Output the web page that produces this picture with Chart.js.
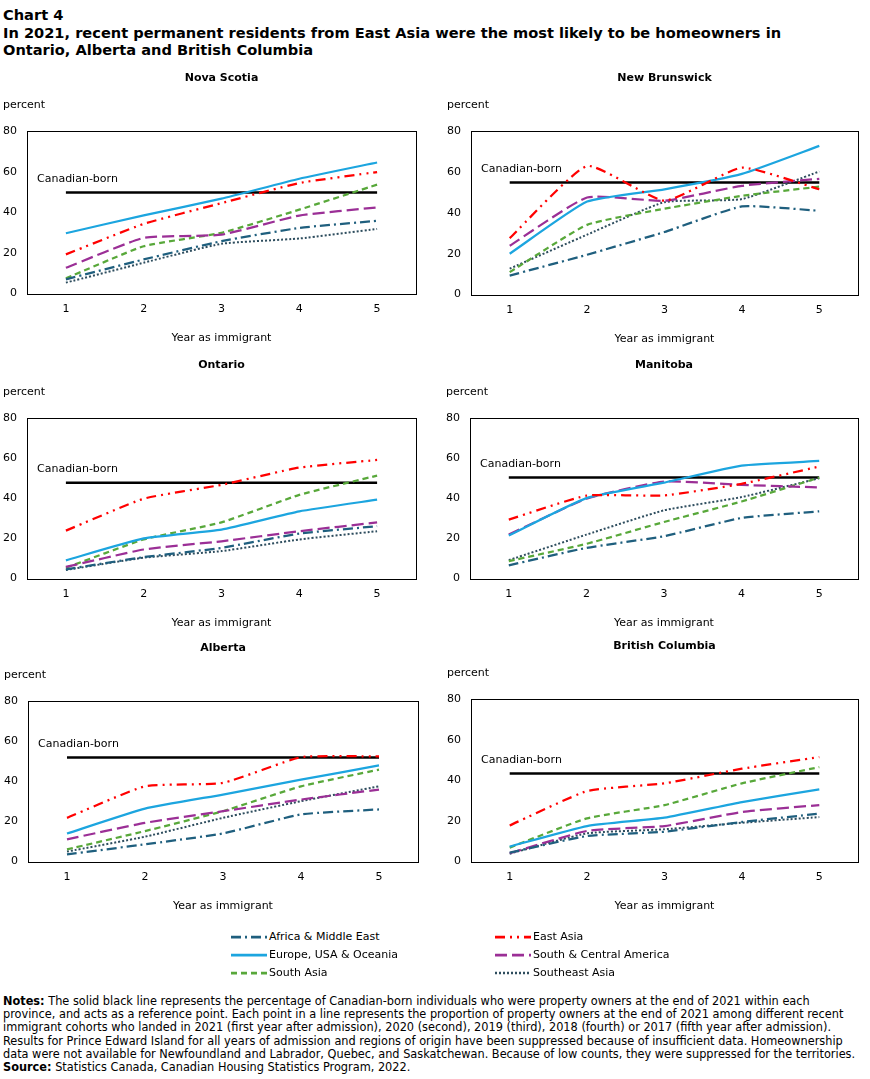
<!DOCTYPE html>
<html>
<head>
<meta charset="utf-8">
<script src="https://cdn.jsdelivr.net/npm/chart.js@4.4.1/dist/chart.umd.min.js"></script>
<style>
    body { margin: 0; background: #fff; width: 870px; height: 1079px; position: relative; overflow: hidden;
           font-family: "DejaVu Sans", Verdana, sans-serif; color: #000; }
    .head { position: absolute; left: 3px; top: 6px; font-weight: bold; font-size: 14.6px; line-height: 17.5px; white-space: nowrap; }
    .panel { position: absolute; }
    .legend { position: absolute; font-size: 11px; height: 18px; line-height: 18px; white-space: nowrap; }
    .legend svg { vertical-align: middle; margin-right: 2px; }
    .notes { position: absolute; left: 3px; top: 994px; font-family: "DejaVu Sans Condensed", "Liberation Sans Narrow", sans-serif;
             font-size: 12.6px; line-height: 13.2px; white-space: nowrap; }
</style>
</head>
<body>
<div class="head">Chart 4<br>In 2021, recent permanent residents from East Asia were the most likely to be homeowners in<br>Ontario, Alberta and British Columbia</div>

<canvas id="p0" class="panel"></canvas>
<canvas id="p1" class="panel"></canvas>
<canvas id="p2" class="panel"></canvas>
<canvas id="p3" class="panel"></canvas>
<canvas id="p4" class="panel"></canvas>
<canvas id="p5" class="panel"></canvas>

<div id="legend"></div>

<div class="notes"><b>Notes:</b> The solid black line represents the percentage of Canadian-born individuals who were property owners at the end of 2021 within each<br>province, and acts as a reference point. Each point in a line represents the proportion of property owners at the end of 2021 among different recent<br>immigrant cohorts who landed in 2021 (first year after admission), 2020 (second), 2019 (third), 2018 (fourth) or 2017 (fifth year after admission).<br>Results for Prince Edward Island for all years of admission and regions of origin have been suppressed because of insufficient data. Homeownership<br>data were not available for Newfoundland and Labrador, Quebec, and Saskatchewan. Because of low counts, they were suppressed for the territories.<br><b>Source:</b> Statistics Canada, Canadian Housing Statistics Program, 2022.</div>

<script>
// --- Data (percent of property owners), one row per province ---
const years = ['1', '2', '3', '4', '5'];
const provinces = ['Nova Scotia', 'New Brunswick', 'Ontario', 'Manitoba', 'Alberta', 'British Columbia'];
const yTicks = [0, 20, 40, 60, 80];

const canadianBorn = [49.8, 54.8, 47.8, 50.3, 51.9, 43.4];

const africaMiddleEast = [
    [7.0, 16.8, 25.8, 32.3, 35.8],
    [9.3, 19.5, 30.6, 43.1, 41.0],
    [4.6, 10.7, 15.3, 22.4, 26.1],
    [6.6, 15.3, 21.1, 30.2, 33.5],
    [3.6, 8.6, 14.0, 23.5, 26.0],
    [4.4, 12.6, 14.7, 19.5, 23.6]
];
const eastAsia = [
    [19.3, 34.3, 44.5, 54.4, 59.8],
    [27.6, 62.9, 45.9, 62.1, 51.5],
    [23.9, 39.8, 46.7, 55.3, 59.1],
    [29.4, 41.3, 41.4, 47.2, 55.8],
    [21.8, 37.5, 39.2, 52.0, 52.4],
    [17.8, 34.7, 38.5, 45.7, 51.4]
];
const europeUsaOceania = [
    [29.7, 38.5, 46.7, 56.5, 64.5],
    [20.0, 45.5, 51.5, 59.0, 72.7],
    [9.1, 20.0, 24.4, 33.5, 39.3],
    [21.5, 40.1, 47.8, 56.3, 58.6],
    [14.0, 26.4, 33.4, 40.8, 47.9],
    [7.4, 17.5, 21.6, 29.3, 35.5]
];
const southCentralAmerica = [
    [12.7, 27.4, 29.0, 38.4, 42.4],
    [23.9, 47.5, 45.9, 53.2, 56.6],
    [5.8, 14.5, 18.6, 23.6, 28.0],
    [21.9, 39.8, 48.3, 46.7, 45.4],
    [11.1, 19.3, 25.1, 30.9, 35.9],
    [4.1, 15.1, 17.5, 24.4, 27.8]
];
const southAsia = [
    [7.5, 23.3, 29.9, 41.3, 53.6],
    [11.0, 34.1, 42.0, 48.3, 52.8],
    [5.4, 19.5, 28.0, 41.7, 51.3],
    [8.7, 17.3, 28.2, 38.4, 50.3],
    [6.1, 15.2, 25.1, 37.5, 45.8],
    [6.9, 21.3, 27.8, 38.5, 46.5]
];
const southeastAsia = [
    [5.4, 15.2, 24.5, 27.1, 31.8],
    [12.7, 29.3, 45.2, 46.7, 60.2],
    [4.3, 10.4, 13.7, 19.5, 23.6],
    [9.2, 21.9, 34.0, 40.6, 50.0],
    [5.0, 12.4, 21.8, 30.1, 37.5],
    [3.9, 13.9, 15.9, 19.1, 21.9]
];

// --- Series styling ---
const series = [
    { label: 'Africa & Middle East', values: africaMiddleEast, color: '#1f5f7e', dash: [10, 4, 2, 4], width: 2.25 },
    { label: 'East Asia', values: eastAsia, color: '#ff0000', dash: [10, 5, 2, 5, 2, 5], width: 2.25 },
    { label: 'Europe, USA & Oceania', values: europeUsaOceania, color: '#1ca5df', dash: [], width: 2.25 },
    { label: 'South & Central America', values: southCentralAmerica, color: '#9b2f96', dash: [12, 5], width: 2.25 },
    { label: 'South Asia', values: southAsia, color: '#58a83a', dash: [6, 4], width: 2.25 },
    { label: 'Southeast Asia', values: southeastAsia, color: '#2e4d5e', dash: [2, 2], width: 2 }
];

const FONT = '"DejaVu Sans", Verdana, sans-serif';

// canvas placement for each province panel
const layoutBoxes = [
    { left: 0,   top: 66,  width: 435, height: 284, padL: 3,  padR: 19 },
    { left: 435, top: 66,  width: 435, height: 285, padL: 12, padR: 12 },
    { left: 0,   top: 353, width: 435, height: 282, padL: 3,  padR: 19 },
    { left: 435, top: 353, width: 435, height: 282, padL: 11, padR: 12 },
    { left: 0,   top: 636, width: 435, height: 282, padL: 4,  padR: 17 },
    { left: 435, top: 634, width: 435, height: 284, padL: 12, padR: 12 }
];

// --- Plugins ---
// black frame around the plot area
const frameBox = {
    id: 'frameBox',
    beforeDatasetsDraw(chart) {
        const { ctx, chartArea: a } = chart;
        ctx.save();
        ctx.strokeStyle = '#000';
        ctx.lineWidth = 1;
        ctx.strokeRect(Math.round(a.left) + 0.5, Math.round(a.top) + 0.5,
            Math.round(a.right - a.left), Math.round(a.bottom - a.top));
        ctx.restore();
    }
};

// province name, centred over the plot area (not the whole canvas)
const panelTitle = {
    id: 'panelTitle',
    afterDraw(chart, args, opts) {
        const { ctx, chartArea } = chart;
        ctx.save();
        ctx.font = 'bold 11px ' + FONT;
        ctx.fillStyle = '#000';
        ctx.textAlign = 'center';
        ctx.textBaseline = 'middle';
        ctx.fillText(opts.text, (chartArea.left + chartArea.right) / 2, 12.6);
        ctx.restore();
    }
};

// "Canadian-born" tag above the reference line
const refLabel = {
    id: 'refLabel',
    afterDatasetsDraw(chart, args, opts) {
        const { ctx, chartArea } = chart;
        const y = chart.scales.y.getPixelForValue(opts.value);
        ctx.save();
        ctx.font = '11px ' + FONT;
        ctx.fillStyle = '#000';
        ctx.textBaseline = 'middle';
        ctx.fillText('Canadian-born', chartArea.left + 10, y - 13.5);
        ctx.restore();
    }
};

function makePanel(i) {
    const box = layoutBoxes[i];
    const canvas = document.getElementById('p' + i);
    canvas.style.left = box.left + 'px';
    canvas.style.top = box.top + 'px';
    canvas.width = box.width;
    canvas.height = box.height;

    const datasets = series.map(s => ({
        label: s.label,
        data: s.values[i],
        borderColor: s.color,
        borderDash: s.dash,
        borderWidth: s.width,
        tension: 0.15
    }));
    // reference line goes last so it sits under the coloured lines
    datasets.push({
        label: 'Canadian-born',
        data: years.map(() => canadianBorn[i]),
        borderColor: '#000',
        borderWidth: 2.5,
        tension: 0
    });

    new Chart(canvas, {
        type: 'line',
        data: { labels: years, datasets: datasets },
        options: {
            responsive: false,
            animation: false,
            devicePixelRatio: 1,
            layout: { padding: { left: box.padL, right: box.padR, top: 25.2, bottom: 0 } },
            elements: { point: { radius: 0 }, line: { fill: false, borderCapStyle: 'butt' } },
            plugins: {
                legend: { display: false },
                tooltip: { enabled: false },
                title: { display: false },
                subtitle: {
                    display: true, text: 'percent', align: 'start', color: '#000',
                    font: { family: FONT, size: 11 },
                    padding: { top: 7.2, bottom: 19.4 }
                },
                panelTitle: { text: provinces[i] },
                refLabel: { value: canadianBorn[i] }
            },
            scales: {
                x: {
                    offset: true,
                    grid: { display: false, drawTicks: false, tickLength: 0 },
                    border: { display: false },
                    ticks: { color: '#000', padding: 8.5, font: { family: FONT, size: 11 } },
                    title: {
                        display: true, text: 'Year as immigrant', color: '#000',
                        font: { family: FONT, size: 11 },
                        padding: { top: 7.5, bottom: 5.5 }
                    }
                },
                y: {
                    min: yTicks[0], max: yTicks[yTicks.length - 1],
                    afterBuildTicks: axis => { axis.ticks = yTicks.map(v => ({ value: v })); },
                    // the scale reserves the tick padding twice; keep only the gap next to the frame
                    afterFit: axis => { axis.width -= axis.options.ticks.padding; },
                    grid: { display: false, drawTicks: false, tickLength: 0 },
                    border: { display: false },
                    ticks: { color: '#000', padding: 10, font: { family: FONT, size: 11 } }
                }
            }
        },
        plugins: [frameBox, panelTitle, refLabel]
    });
}

provinces.forEach((p, i) => makePanel(i));

// --- Legend (two columns) ---
const legendSpots = [
    { left: 231, top: 928 }, { left: 495, top: 928 },
    { left: 231, top: 946 }, { left: 495, top: 946 },
    { left: 231, top: 964 }, { left: 495, top: 964 }
];
document.getElementById('legend').innerHTML = series.map((s, k) => `
    <div class="legend" style="left:${legendSpots[k].left}px; top:${legendSpots[k].top}px;">
        <svg width="36" height="6"><line x1="0" y1="3" x2="36" y2="3" stroke="${s.color}" stroke-width="${s.width + 0.5}"
            stroke-dasharray="${s.dash.length ? s.dash.join(' ') : 'none'}"/></svg>${s.label}
    </div>`).join('');
</script>
</body>
</html>
